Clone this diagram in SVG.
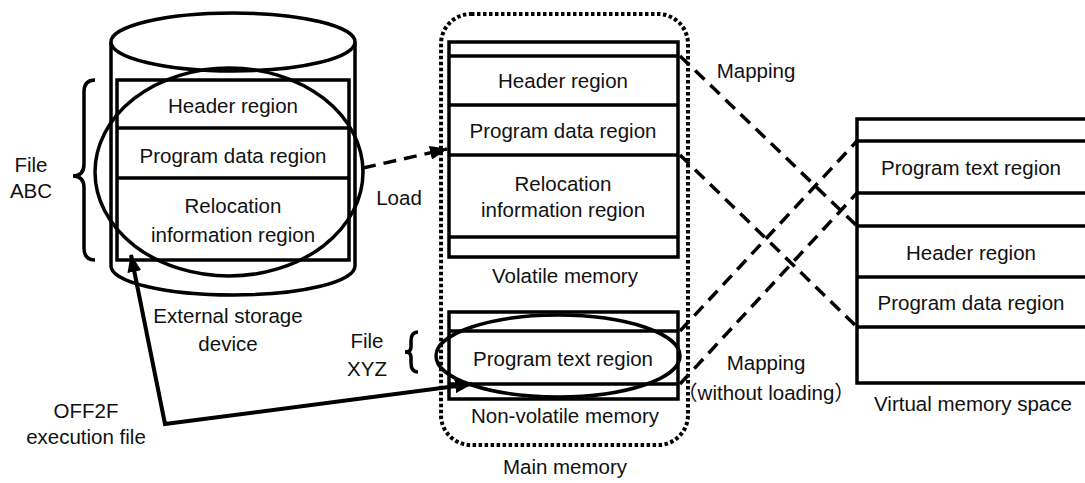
<svg xmlns="http://www.w3.org/2000/svg" width="1085" height="483" viewBox="0 0 1085 483">
<style>
text{font-family:"Liberation Sans","Noto Sans CJK JP",sans-serif;font-size:20.5px;fill:#111;text-anchor:middle}
.s{fill:none;stroke:#000;stroke-width:3.5}
.bx{fill:#fff;stroke:#000;stroke-width:3.5}
.dash{fill:none;stroke:#000;stroke-width:3.5;stroke-dasharray:13 8}
.dot{fill:none;stroke:#000;stroke-width:4;stroke-dasharray:3.5 2.5}
.sol{fill:none;stroke:#000;stroke-width:4;stroke-linejoin:miter}
</style>
<defs>
<marker id="ah" markerUnits="userSpaceOnUse" markerWidth="18" markerHeight="14" refX="17" refY="7" orient="auto-start-reverse">
<path d="M0,0 L18,7 L0,14 z" fill="#000"/>
</marker>
</defs>
<rect width="1085" height="483" fill="#fff"/>

<g id="storage">
<path class="bx" d="M111,42 L111,266 A122 29 0 0 0 355,266 L355,42"/>
<ellipse class="bx" cx="233" cy="42" rx="122" ry="29"/>
<text x="228" y="323">External storage</text>
<text x="228" y="351">device</text>
</g>

<g id="fileABC">
<rect class="bx" x="117" y="80" width="232" height="180"/>
<line class="s" x1="117" y1="128" x2="349" y2="128"/>
<line class="s" x1="117" y1="178" x2="349" y2="178"/>
<text x="233" y="113">Header region</text>
<text x="233" y="163">Program data region</text>
<text x="233" y="213">Relocation</text>
<text x="233" y="242">information region</text>
<ellipse class="s" cx="229" cy="172" rx="134" ry="104"/>
<path class="s" d="M95,80 Q84,80 84,92 L84,164 Q84,176 73,176 Q84,176 84,188 L84,248 Q84,260 95,260"/>
<text x="31" y="172">File</text>
<text x="31" y="198">ABC</text>
</g>

<g id="mainMemory">
<rect class="dot" x="441" y="14" width="247" height="431" rx="30"/>
<text x="565" y="474">Main memory</text>
</g>

<g id="volatile">
<rect class="bx" x="449" y="42" width="229" height="215"/>
<line class="s" x1="449" y1="56" x2="678" y2="56"/>
<line class="s" x1="449" y1="105" x2="678" y2="105"/>
<line class="s" x1="449" y1="155" x2="678" y2="155"/>
<line class="s" x1="449" y1="237" x2="678" y2="237"/>
<text x="563" y="88">Header region</text>
<text x="563" y="138">Program data region</text>
<text x="563" y="191">Relocation</text>
<text x="563" y="217">information region</text>
<text x="565" y="283">Volatile memory</text>
</g>

<g id="nonvolatile">
<rect class="bx" x="449" y="312" width="229" height="87"/>
<line class="s" x1="449" y1="331" x2="678" y2="331"/>
<line class="s" x1="449" y1="384" x2="678" y2="384"/>
<text x="563" y="366">Program text region</text>
<ellipse class="s" cx="558" cy="356" rx="122" ry="41"/>
<text x="565" y="423">Non-volatile memory</text>
<path class="s" d="M418,332 Q411,332 411,341 L411,347 Q411,352 405,352 Q411,352 411,357 L411,363 Q411,372 418,372"/>
<text x="367" y="348">File</text>
<text x="367" y="376">XYZ</text>
</g>

<g id="virtual">
<rect class="bx" x="857" y="119" width="240" height="264"/>
<line class="s" x1="857" y1="141" x2="1090" y2="141"/>
<line class="s" x1="857" y1="193" x2="1090" y2="193"/>
<line class="s" x1="857" y1="226" x2="1090" y2="226"/>
<line class="s" x1="857" y1="277" x2="1090" y2="277"/>
<line class="s" x1="857" y1="327" x2="1090" y2="327"/>
<text x="971" y="175">Program text region</text>
<text x="971" y="260">Header region</text>
<text x="971" y="310">Program data region</text>
<text x="973" y="411">Virtual memory space</text>
</g>

<g id="connectors">
<line class="dash" x1="363" y1="168" x2="447" y2="149" marker-end="url(#ah)"/>
<text x="399" y="205">Load</text>
<line class="dash" x1="680" y1="56" x2="857" y2="226"/>
<line class="dash" x1="680" y1="155" x2="857" y2="327"/>
<line class="dash" x1="680" y1="331" x2="857" y2="141"/>
<line class="dash" x1="680" y1="384" x2="857" y2="193"/>
<text x="756" y="78">Mapping</text>
<text x="766" y="370">Mapping</text>
<text x="766" y="400">（without loading）</text>
<polyline class="sol" points="131,255 165,424 472,384" marker-start="url(#ah)" marker-end="url(#ah)"/>
<text x="86" y="418">OFF2F</text>
<text x="86" y="444">execution file</text>
</g>
</svg>
